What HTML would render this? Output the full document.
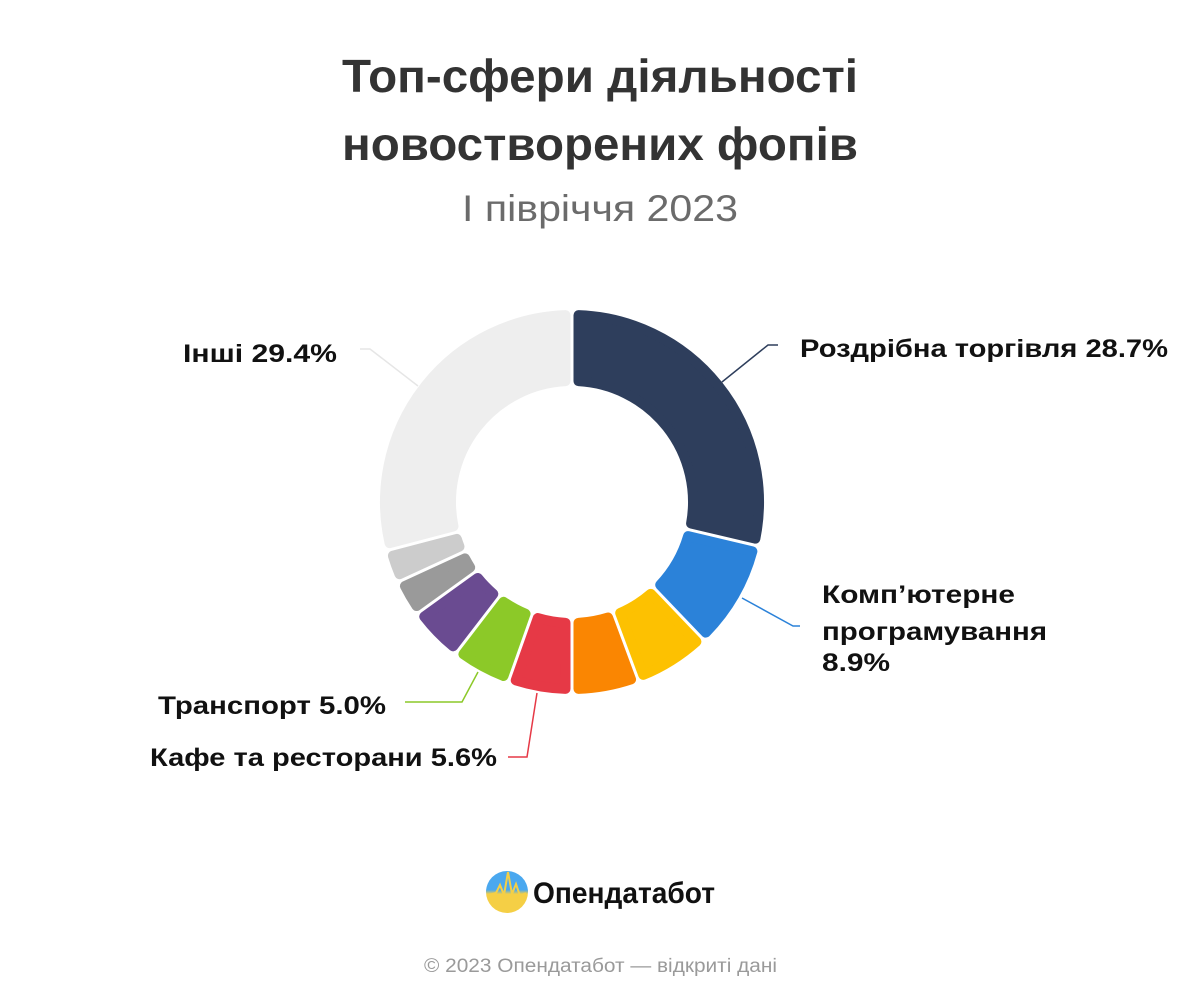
<!DOCTYPE html>
<html><head><meta charset="utf-8"><style>
html,body{margin:0;padding:0;background:#fff;width:1200px;height:1000px;overflow:hidden}
svg{display:block}
text{font-family:"Liberation Sans","DejaVu Sans",sans-serif}
</style></head><body>
<svg id="s" width="1200" height="1000" viewBox="0 0 1200 1000" xmlns="http://www.w3.org/2000/svg">
<text x="342" y="92" textLength="516" lengthAdjust="spacingAndGlyphs" font-size="46" font-weight="bold" fill="#333">Топ-сфери діяльності</text>
<text x="342" y="160" textLength="516" lengthAdjust="spacingAndGlyphs" font-size="46" font-weight="bold" fill="#333">новостворених фопів</text>
<text x="462" y="221" textLength="276" lengthAdjust="spacingAndGlyphs" font-size="37" fill="#6b6b6b">І півріччя 2023</text>
<g id="pie"></g>
<g fill="none" stroke-width="1.5">
<polyline points="722,382 768,345 778,345" stroke="#2e3e5c"/>
<polyline points="742,598 793,626 800,626" stroke="#2b82d9"/>
<polyline points="478,672 462,702 405,702" stroke="#8cc928"/>
<polyline points="537,693 527,757 508,757" stroke="#e63946"/>
<polyline points="418,386 370,349 360,349" stroke="#e6e6e6"/>
</g>
<g font-size="25" font-weight="bold" fill="#111" lengthAdjust="spacingAndGlyphs">
<text x="800" y="357" textLength="368" lengthAdjust="spacingAndGlyphs">Роздрібна торгівля 28.7%</text>
<text x="822" y="603" textLength="193" lengthAdjust="spacingAndGlyphs">Комп’ютерне</text>
<text x="822" y="640" textLength="225" lengthAdjust="spacingAndGlyphs">програмування</text>
<text x="822" y="671" textLength="68" lengthAdjust="spacingAndGlyphs">8.9%</text>
<text x="158" y="714" textLength="228" lengthAdjust="spacingAndGlyphs">Транспорт 5.0%</text>
<text x="150" y="766" textLength="347" lengthAdjust="spacingAndGlyphs">Кафе та ресторани 5.6%</text>
<text x="183" y="362" textLength="154" lengthAdjust="spacingAndGlyphs">Інші 29.4%</text>
</g>
<defs><linearGradient id="lg" x1="0" y1="0" x2="0" y2="1"><stop offset="0.45" stop-color="#4aa8ef"/><stop offset="0.55" stop-color="#f5cf45"/></linearGradient></defs>
<circle cx="507" cy="892" r="21" fill="url(#lg)"/>
<polyline points="488,895 496,893 500,885 504,895 508,872 512,894 516,884 520,896 526,893" fill="none" stroke="#f5cf45" stroke-width="2"/>
<text x="533" y="903" font-size="30" font-weight="bold" textLength="182" lengthAdjust="spacingAndGlyphs" fill="#111">Опендатабот</text>
<text x="424" y="972" font-size="19" textLength="353" lengthAdjust="spacingAndGlyphs" fill="#9a9a9a">© 2023 Опендатабот — відкриті дані</text>
</svg>
<script>
(function(){
var cx=572,cy=502,R=192,r=116,gap=1.5,rad=5;
var sl=[[0,103.3,"#2e3e5c"],[103.3,136.3,"#2b82d9"],[136.3,159.6,"#fdc101"],[159.6,180,"#fa8602"],[180,199.5,"#e63946"],[199.5,217.5,"#8cc928"],[217.5,234.2,"#6a4b91"],[234.2,245.3,"#9a9a9a"],[245.3,255.3,"#cccccc"],[255.3,360,"#eeeeee"]];
var g=document.getElementById("pie"),ns="http://www.w3.org/2000/svg";
function pt(rr,a){var t=a*Math.PI/180;return [cx+rr*Math.sin(t),cy-rr*Math.cos(t)];}
sl.forEach(function(s){
 var d=gap+rad, Ro=R-rad, Ri=r+rad;
 var a0o=s[0]+d/Ro*180/Math.PI, a1o=s[1]-d/Ro*180/Math.PI;
 var a0i=s[0]+d/Ri*180/Math.PI, a1i=s[1]-d/Ri*180/Math.PI;
 var large=(a1o-a0o)>180?1:0, largei=(a1i-a0i)>180?1:0;
 var p1=pt(Ro,a0o),p2=pt(Ro,a1o),p3=pt(Ri,a1i),p4=pt(Ri,a0i);
 var dd="M"+p1+" A"+Ro+","+Ro+" 0 "+large+" 1 "+p2+" L"+p3+" A"+Ri+","+Ri+" 0 "+largei+" 0 "+p4+" Z";
 var p=document.createElementNS(ns,"path");
 p.setAttribute("d",dd);p.setAttribute("fill",s[2]);p.setAttribute("stroke",s[2]);
 p.setAttribute("stroke-width",rad*2);p.setAttribute("stroke-linejoin","round");
 g.appendChild(p);
});
})();
</script>
</body></html>
